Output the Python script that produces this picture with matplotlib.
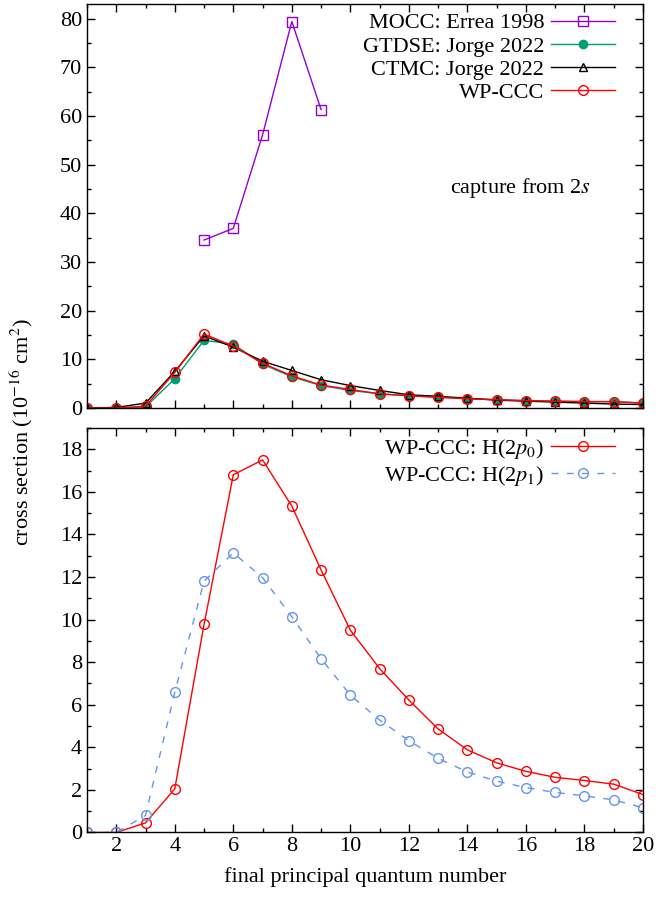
import numpy as np
import matplotlib
matplotlib.use('Agg')
import matplotlib.pyplot as plt
from matplotlib.ticker import MultipleLocator

plt.rcParams['font.family'] = ['Liberation Serif', 'DejaVu Serif']
plt.rcParams['mathtext.fontset'] = 'stix'

# final principal quantum number
n = np.arange(1, 21)

# top panel: capture from 2s
mocc_n = [5, 6, 7, 8, 9]
mocc = [34.5, 36.9, 56.1, 79.4, 61.3]

gtdse = [0.0, 0.0, 0.2, 6.0, 13.9, 13.1, 9.0, 6.4, 4.6, 3.6,
         2.9, 2.5, 2.2, 1.9, 1.7, 1.5, 1.4, 1.3, 1.3, 1.0]
ctmc = [0.0, 0.1, 1.0, 7.5, 14.8, 12.5, 9.6, 7.7, 5.8, 4.6,
        3.6, 2.7, 2.4, 2.0, 1.6, 1.4, 1.2, 1.0, 0.8, 0.7]
wpccc = [0.0, 0.0, 0.35, 7.3, 15.2, 12.7, 9.2, 6.6, 4.7, 3.8,
         2.9, 2.5, 2.2, 1.9, 1.7, 1.5, 1.4, 1.3, 1.3, 1.0]

# bottom panel: capture into 2p0 / 2p1
p0 = [0.0, 0.0, 0.45, 2.05, 9.77, 16.8, 17.5, 15.33, 12.33, 9.5,
      7.7, 6.22, 4.86, 3.88, 3.27, 2.87, 2.59, 2.44, 2.27, 1.78]
p1 = [0.0, 0.0, 0.8, 6.58, 11.8, 13.13, 11.97, 10.13, 8.16, 6.45,
      5.28, 4.31, 3.48, 2.84, 2.41, 2.11, 1.88, 1.72, 1.53, 1.16]

fs = 16

fig = plt.figure(figsize=(6.59, 9.09), dpi=100)
ax1 = fig.add_axes([0.132, 0.5512, 0.8437, 0.4444])
ax2 = fig.add_axes([0.132, 0.0842, 0.8437, 0.4450])

ms = 7
ax1.plot(mocc_n, mocc, '-', color='#9400d3', lw=1.0, marker='s', ms=ms,
         mfc='none', mec='#9400d3', mew=1.0, label='MOCC: Errea 1998')
ax1.plot(n, gtdse, '-', color='#009e73', lw=1.0, marker='o', ms=6,
         mfc='#009e73', mec='#009e73', label='GTDSE: Jorge 2022')
ax1.plot(n, ctmc, '-', color='black', lw=1.0, marker='^', ms=6,
         mfc='none', mec='black', mew=1.0, label='CTMC: Jorge 2022')
ax1.plot(n, wpccc, '-', color='#ff0000', lw=1.0, marker='o', ms=ms,
         mfc='none', mec='#ff0000', mew=1.0, label='WP-CCC')

ax2.plot(n, p0, '-', color='#ff0000', lw=1.0, marker='o', ms=ms,
         mfc='none', mec='#ff0000', mew=1.0, label='WP-CCC: H(2$p_0$)')
ax2.plot(n, p1, color='#6495ed', lw=1.0, ls=(0, (5, 6)), marker='o', ms=ms,
         mfc='none', mec='#6495ed', mew=1.0, label='WP-CCC: H(2$p_1$)')

ax1.set_ylim(0, 83)
ax2.set_ylim(0, 19)
for ax in (ax1, ax2):
    ax.set_xlim(1, 20)
    ax.xaxis.set_major_locator(MultipleLocator(2))
    ax.xaxis.set_minor_locator(MultipleLocator(1))
    ax.tick_params(which='both', direction='in', top=True, right=True,
                   labelsize=fs, width=1.0)
    ax.tick_params(which='major', length=6)
    ax.tick_params(which='minor', length=3)
    for s in ax.spines.values():
        s.set_linewidth(1.0)
    ax.legend(loc='upper right', bbox_to_anchor=(0.966, 1.0),
              markerfirst=False, frameon=False, fontsize=fs,
              handlelength=2.9, handletextpad=0.3, labelspacing=0.12,
              borderaxespad=0.0)

ax1.yaxis.set_major_locator(MultipleLocator(10))
ax1.yaxis.set_minor_locator(MultipleLocator(5))
ax1.tick_params(labelbottom=False)
ax2.yaxis.set_major_locator(MultipleLocator(2))
ax2.yaxis.set_minor_locator(MultipleLocator(1))

ax1.text(0.78, 0.545, 'capture from 2$s$', transform=ax1.transAxes,
         ha='center', va='center', fontsize=fs)

ax2.set_xlabel('final principal quantum number', fontsize=fs, labelpad=8)
fig.text(0.033, 0.525, 'cross section (10$^{-16}$ cm$^2$)', rotation=90,
         ha='center', va='center', fontsize=fs)

fig.savefig('out.png', dpi=100)
